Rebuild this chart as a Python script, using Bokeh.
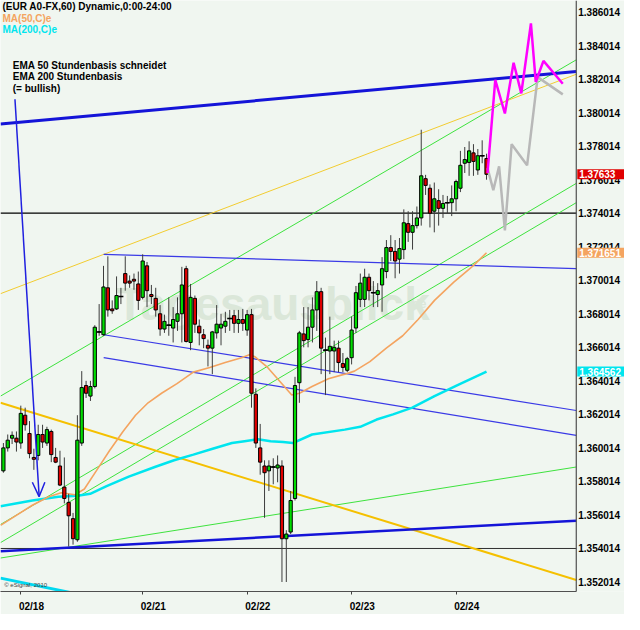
from bokeh.plotting import figure
from bokeh.models import Range1d, FixedTicker, Label, Span, ColumnDataSource
from bokeh.core.properties import value
from bokeh.embed import file_html
from bokeh.resources import INLINE

BG = "#f0f6f0"
FONT = "Liberation Sans"

# ---------------- data: hourly EUR/USD candles ----------------
opens = [1.35864, 1.36001, 1.36059, 1.36059, 1.36030, 1.36196, 1.36087, 1.35944, 1.35956, 1.36081,
         1.36030, 1.36099, 1.35944, 1.35893, 1.35767, 1.35676, 1.35579, 1.35453, 1.36030, 1.36373,
         1.36310, 1.36367, 1.36693, 1.36676, 1.36956, 1.36830, 1.36830, 1.36904, 1.37041, 1.36996,
         1.37007, 1.36979, 1.36899, 1.37087, 1.36916, 1.36893, 1.36801, 1.36710, 1.36733, 1.36716,
         1.36756, 1.36801, 1.37070, 1.36630, 1.36893, 1.36727, 1.36676, 1.36613, 1.36596, 1.36687,
         1.36716, 1.36727, 1.36773, 1.36790, 1.36744, 1.36767, 1.36704, 1.36796, 1.36321, 1.36001,
         1.35893, 1.35864, 1.35887, 1.35881, 1.35893, 1.35459, 1.35499, 1.35699, 1.36390, 1.36681,
         1.36647, 1.36721, 1.36824, 1.36933, 1.36584, 1.36579, 1.36579, 1.36596, 1.36504, 1.36464,
         1.36539, 1.36716, 1.36887, 1.36887, 1.37019, 1.36927, 1.36916, 1.36973, 1.37053, 1.37196,
         1.37173, 1.37127, 1.37184, 1.37339, 1.37287, 1.37327, 1.37373, 1.37607, 1.37550, 1.37413,
         1.37476, 1.37430, 1.37464, 1.37464, 1.37487, 1.37550, 1.37699, 1.37704, 1.37761, 1.37659,
         1.37744, 1.37727]
closes = [1.36001, 1.36047, 1.36076, 1.36036, 1.36207, 1.36139, 1.35967, 1.35933, 1.36081, 1.36036,
          1.36110, 1.35961, 1.35916, 1.35779, 1.35699, 1.35596, 1.35459, 1.36047, 1.36361, 1.36327,
          1.36367, 1.36721, 1.36693, 1.36961, 1.36824, 1.36819, 1.36910, 1.36904, 1.36984, 1.36984,
          1.36996, 1.36881, 1.37116, 1.36939, 1.36904, 1.36824, 1.36710, 1.36756, 1.36733, 1.36767,
          1.36801, 1.36973, 1.36636, 1.36899, 1.36739, 1.36687, 1.36653, 1.36596, 1.36693, 1.36739,
          1.36739, 1.36756, 1.36773, 1.36744, 1.36767, 1.36744, 1.36796, 1.36327, 1.36030, 1.35916,
          1.35853, 1.35893, 1.35887, 1.35899, 1.35459, 1.35487, 1.35687, 1.36373, 1.36687, 1.36641,
          1.36721, 1.36824, 1.36933, 1.36596, 1.36584, 1.36607, 1.36601, 1.36510, 1.36481, 1.36533,
          1.36704, 1.36927, 1.36984, 1.37019, 1.36939, 1.36927, 1.36939, 1.37070, 1.37196, 1.37173,
          1.37116, 1.37190, 1.37344, 1.37287, 1.37327, 1.37373, 1.37624, 1.37567, 1.37401, 1.37487,
          1.37430, 1.37459, 1.37464, 1.37487, 1.37590, 1.37687, 1.37721, 1.37773, 1.37710, 1.37744,
          1.37744, 1.37633]
highs = [1.36030, 1.36081, 1.36099, 1.36099, 1.36253, 1.36241, 1.36161, 1.35996, 1.36139, 1.36139,
         1.36127, 1.36110, 1.36001, 1.35984, 1.35944, 1.35727, 1.35613, 1.36196, 1.36459, 1.36401,
         1.36401, 1.36733, 1.36859, 1.37087, 1.37144, 1.36881, 1.37024, 1.36956, 1.37144, 1.37030,
         1.37041, 1.37053, 1.37156, 1.37110, 1.36973, 1.36956, 1.36853, 1.36796, 1.36899, 1.36841,
         1.36899, 1.37081, 1.37087, 1.36979, 1.36910, 1.36767, 1.36710, 1.36647, 1.36699, 1.36853,
         1.36801, 1.36813, 1.36824, 1.36824, 1.36824, 1.36830, 1.36824, 1.36830, 1.36356, 1.36144,
         1.35927, 1.35927, 1.35939, 1.35956, 1.35927, 1.35510, 1.35744, 1.36425, 1.36699, 1.36841,
         1.36841, 1.36899, 1.36996, 1.36956, 1.36659, 1.36784, 1.36641, 1.36641, 1.36567, 1.36544,
         1.36784, 1.36967, 1.37041, 1.37070, 1.37041, 1.36996, 1.36984, 1.37139, 1.37241, 1.37270,
         1.37241, 1.37253, 1.37424, 1.37413, 1.37413, 1.37441, 1.37899, 1.37630, 1.37573, 1.37584,
         1.37544, 1.37510, 1.37504, 1.37567, 1.37601, 1.37773, 1.37796, 1.37830, 1.37813, 1.37784,
         1.37836, 1.37756]
lows = [1.35853, 1.35979, 1.36024, 1.35979, 1.35996, 1.36104, 1.35939, 1.35870, 1.35927, 1.36001,
        1.36013, 1.35916, 1.35910, 1.35773, 1.35670, 1.35413, 1.35424, 1.35441, 1.36013, 1.36299,
        1.36281, 1.36356, 1.36670, 1.36670, 1.36784, 1.36801, 1.36824, 1.36859, 1.36939, 1.36956,
        1.36944, 1.36824, 1.36887, 1.36841, 1.36859, 1.36784, 1.36670, 1.36687, 1.36670, 1.36630,
        1.36699, 1.36630, 1.36630, 1.36584, 1.36687, 1.36613, 1.36596, 1.36487, 1.36441, 1.36653,
        1.36613, 1.36687, 1.36699, 1.36687, 1.36687, 1.36699, 1.36670, 1.36241, 1.36001, 1.35841,
        1.35584, 1.35744, 1.35784, 1.35796, 1.35201, 1.35201, 1.35487, 1.35687, 1.36270, 1.36601,
        1.36601, 1.36630, 1.36699, 1.36441, 1.36316, 1.36441, 1.36453, 1.36453, 1.36453, 1.36453,
        1.36499, 1.36687, 1.36841, 1.36841, 1.36881, 1.36841, 1.36841, 1.36813, 1.37013, 1.37116,
        1.37013, 1.37041, 1.37127, 1.37230, 1.37184, 1.37310, 1.37327, 1.37510, 1.37316, 1.37287,
        1.37327, 1.37373, 1.37401, 1.37384, 1.37413, 1.37527, 1.37641, 1.37624, 1.37624, 1.37630,
        1.37699, 1.37601]

# moving averages
ma50_x = [-0.66, 6.65, 10.41, 13.29, 16.40, 18.61, 21.49, 24.37, 27.48, 30.36, 33.24, 36.34, 39.88,
          43.65, 47.42, 50.96, 54.73, 56.50, 57.83, 60.71, 63.59, 66.25, 68.02, 70.91, 74.67, 78.44,
          80.66, 84.20, 87.97, 91.74, 95.28, 99.05, 103.48, 107.91, 111.0]
ma50_y = [1.35539, 1.35659, 1.35710, 1.35733, 1.35721, 1.35756, 1.35870, 1.35984, 1.36099, 1.36196,
          1.36270, 1.36327, 1.36384, 1.36453, 1.36481, 1.36510, 1.36539, 1.36556, 1.36544, 1.36481,
          1.36396, 1.36316, 1.36327, 1.36367, 1.36413, 1.36441, 1.36459, 1.36516, 1.36596, 1.36670,
          1.36767, 1.36881, 1.36990, 1.37087, 1.371651]
ma200_x = [-0.66, 6.65, 12.63, 17.06, 19.94, 23.71, 28.81, 34.79, 39.22, 43.65, 48.08, 52.52, 55.40,
           58.50, 61.38, 64.26, 66.47, 70.91, 78.44, 81.99, 85.75, 89.52, 93.95, 99.05, 104.59, 111.0]
ma200_y = [1.35653, 1.35687, 1.35710, 1.35716, 1.35727, 1.35773, 1.35830, 1.35887, 1.35927, 1.35961,
           1.35996, 1.36030, 1.36041, 1.36053, 1.36041, 1.36036, 1.36030, 1.36081, 1.36110, 1.36127,
           1.36170, 1.36201, 1.36241, 1.36310, 1.36379, 1.364562]

# projected paths
proj_up_x = [111.23, 113.01, 115.22, 117.22, 118.99, 121.20, 122.31, 124.08, 128.52]
proj_up_y = [1.37641, 1.38196, 1.37996, 1.38299, 1.38116, 1.38533, 1.38184, 1.38310, 1.38173]
proj_dn_x = [111.23, 112.56, 113.89, 115.22, 116.77, 120.32, 122.75, 128.52]
proj_dn_y = [1.37670, 1.37539, 1.37681, 1.37299, 1.37813, 1.37687, 1.38213, 1.38110]

# drawn trend lines (end points: candle index, price)
edge_x = [-0.66, 131.62]
resist_y = [1.37933, 1.38247]
support_y = [1.35384, 1.35567]
chan_x = [23.04, 131.62]
chan_top_y = [1.37156, 1.37070]
chan_mid_y = [1.36676, 1.36224]
chan_low_y = [1.36539, 1.36076]
green_a_y = [1.36310, 1.38316]
green_b1_y = [1.35544, 1.37579]
green_b2_y = [1.35436, 1.37464]
green_c_y = [1.35344, 1.35887]
yellow_y = [1.36921, 1.38230]
gold_y = [1.36270, 1.35213]
cyan_seg_x = [-0.66, 15.29]
cyan_seg_y = [1.35224, 1.35139]
levels = [1.37401, 1.35401]
arrow_x = [2.66, 8.2]
arrow_y = [1.38081, 1.35716]
arrow_head_x = [6.65, 8.2, 9.53]
arrow_head_y = [1.35796, 1.35710, 1.35796]

# axes
price_ticks = [1.352014, 1.354014, 1.356014, 1.358014, 1.360014, 1.362014, 1.364014, 1.366014,
               1.368014, 1.370014, 1.372014, 1.374014, 1.376014, 1.378014, 1.380014, 1.382014,
               1.384014, 1.386014]
day_ticks = [4, 32, 56, 80, 104]
date_labels = ["02/18", "02/21", "02/22", "02/23", "02/24"]

tag_values = [1.37633, 1.371651, 1.364562]
tag_texts = ["1.37633", "1.371651", "1.364562"]
tag_colors = ["#e00000", "#f4a460", "#00e5ee"]

title_text = "(EUR A0-FX,60) Dynamic,0:00-24:00"
legend_texts = ["MA(50,C)e", "MA(200,C)e"]
note_lines = ["EMA 50 Stundenbasis schneidet", "EMA 200 Stundenbasis", "(= bullish)"]

# ---------------- figure ----------------
X0, X1, XFAR = -0.665, 131.62, 142.7   # chart area ends at X1, price scale from X1 to XFAR
Y0, Y1 = 1.351443, 1.3867

p = figure(width=624, height=614, x_range=Range1d(X0, XFAR), y_range=Range1d(Y0, Y1),
           y_axis_location=None, output_backend="svg", toolbar_location=None,
           background_fill_color=BG, border_fill_color=BG,
           min_border_left=0, min_border_top=0, min_border_right=0, min_border_bottom=14)
p.outline_line_color = None
p.grid.visible = False

# watermark
p.add_layout(Label(x=25.9, y=1.36858, text="Tagesausblick", text_font=FONT, text_font_style="bold",
                   text_font_size="46px", text_color="#dbe7d9", text_baseline="alphabetic",
                   level="underlay"))
p.add_layout(Label(x=94.0, y=1.36858, text="de", text_font=FONT, text_font_style="bold",
                   text_font_size="12px", text_color="#dbe7d9", text_baseline="alphabetic",
                   level="underlay"))

# horizontal levels
p.segment(x0=[X0] * len(levels), y0=levels, x1=[X1] * len(levels), y1=levels,
          line_color=["#000000", "#303030"], line_width=[1.3, 1.0])

# trend lines
p.line(edge_x, green_a_y, line_color="#3ee23e", line_width=1)
p.line(edge_x, green_b1_y, line_color="#3ee23e", line_width=1)
p.line(edge_x, green_b2_y, line_color="#3ee23e", line_width=1)
p.line(edge_x, green_c_y, line_color="#3ee23e", line_width=1)
p.line(edge_x, yellow_y, line_color="#f2cc30", line_width=1)
p.line(edge_x, gold_y, line_color="#f5c000", line_width=2)
p.line(chan_x, chan_top_y, line_color="#3a3ae6", line_width=1.2)
p.line(chan_x, chan_mid_y, line_color="#3a3ae6", line_width=1.2)
p.line(chan_x, chan_low_y, line_color="#3a3ae6", line_width=1.2)
p.line(edge_x, resist_y, line_color="#1414d8", line_width=3)
p.line(edge_x, support_y, line_color="#1414d8", line_width=2.5)
p.line(cyan_seg_x, cyan_seg_y, line_color="#00d8f0", line_width=3)

# moving averages
p.line(ma200_x, ma200_y, line_color="#00e5ee", line_width=2.5)
p.line(ma50_x, ma50_y, line_color="#f4a460", line_width=1.6)

# candles
idx = list(range(len(opens)))
body_top = [max(o, c) for o, c in zip(opens, closes)]
body_bot = [min(o, c) for o, c in zip(opens, closes)]
body_col = ["#00dd00" if c > o else ("#e00000" if c < o else "#000000") for o, c in zip(opens, closes)]
src = ColumnDataSource(dict(x=idx, top=body_top, bottom=body_bot, high=highs, low=lows, color=body_col))
p.segment(x0="x", y0="low", x1="x", y1="high", source=src, line_color="#3c3c3c", line_width=1)
p.vbar(x="x", top="top", bottom="bottom", width=0.74, fill_color="color", line_color="#000000",
       line_width=1, source=src)
doji_x = [i for i, o, c in zip(idx, opens, closes) if o == c]
doji_y = [c for o, c in zip(opens, closes) if o == c]
p.dash(doji_x, doji_y, size=5, line_color="#000000", line_width=1.5)

# projections
p.line(proj_dn_x, proj_dn_y, line_color="#b8b8b8", line_width=2.5)
p.line(proj_up_x, proj_up_y, line_color="#ff00ff", line_width=2.5)

# arrow
p.line(arrow_x, arrow_y, line_color="#2020e0", line_width=1.5)
p.line(arrow_head_x, arrow_head_y, line_color="#2020e0", line_width=1.5)

# price scale on the right: axis line + tick labels
p.add_layout(Span(location=X1, dimension="height", line_color="#505050", line_width=1.2))
p.text(x=[X1] * len(price_ticks), y=price_ticks, text=["%.6f" % t for t in price_ticks],
       x_offset=2, text_font=value(FONT), text_font_style="bold", text_font_size="10px",
       text_color="#000000", text_baseline="middle", text_align="left")

# time axis
label_shift = 2.45
label_pos = [d + label_shift for d in day_ticks]
p.xaxis.ticker = FixedTicker(ticks=label_pos, minor_ticks=day_ticks)
p.xaxis.major_label_overrides = {pos: lab for pos, lab in zip(label_pos, date_labels)}
p.xaxis.bounds = (X0, X1)
p.xaxis.major_tick_line_color = None
p.xaxis.minor_tick_line_color = "#404040"
p.xaxis.minor_tick_out = 3
p.xaxis.minor_tick_in = 0
p.xaxis.major_label_standoff = 3
p.xaxis.axis_line_color = "#505050"
p.xaxis.major_label_text_font = FONT
p.xaxis.major_label_text_font_style = "bold"
p.xaxis.major_label_text_font_size = "10px"
p.xaxis.major_label_text_color = "#000000"

# price tags on the scale (boxes run to the right edge)
for v, t, c in zip(tag_values, tag_texts, tag_colors):
    p.add_layout(Label(x=X1, y=v, text=t, text_font=FONT, text_font_style="bold", text_font_size="10px",
                       text_color="white", text_baseline="middle", text_align="left",
                       background_fill_color=c, x_offset=1,
                       padding=dict(left=2, right=12, top=1, bottom=1)))

# legend texts
p.add_layout(Label(x=-0.2, y=1.38633, text=title_text, text_font=FONT, text_font_style="bold",
                   text_font_size="10px", text_color="#000000", text_baseline="middle"))
for t, c, yy in zip(legend_texts, ["#f4a460", "#00e5ee"], [1.385643, 1.384957]):
    p.add_layout(Label(x=-0.2, y=yy, text=t, text_font=FONT, text_font_style="bold",
                       text_font_size="10px", text_color=c, text_baseline="middle"))

for t, yy in zip(note_lines, [1.382814, 1.382157, 1.381471]):
    p.add_layout(Label(x=2.15, y=yy, text=t, text_font=FONT, text_font_style="bold",
                       text_font_size="10px", text_color="#000000", text_baseline="middle"))

p.add_layout(Label(x=0.2, y=1.35184, text="\u00a9 eSignal, 2010", text_font=FONT,
                   text_font_size="6px", text_color="#404040", text_baseline="middle"))

open("out.html", "w").write(file_html(p, INLINE))
